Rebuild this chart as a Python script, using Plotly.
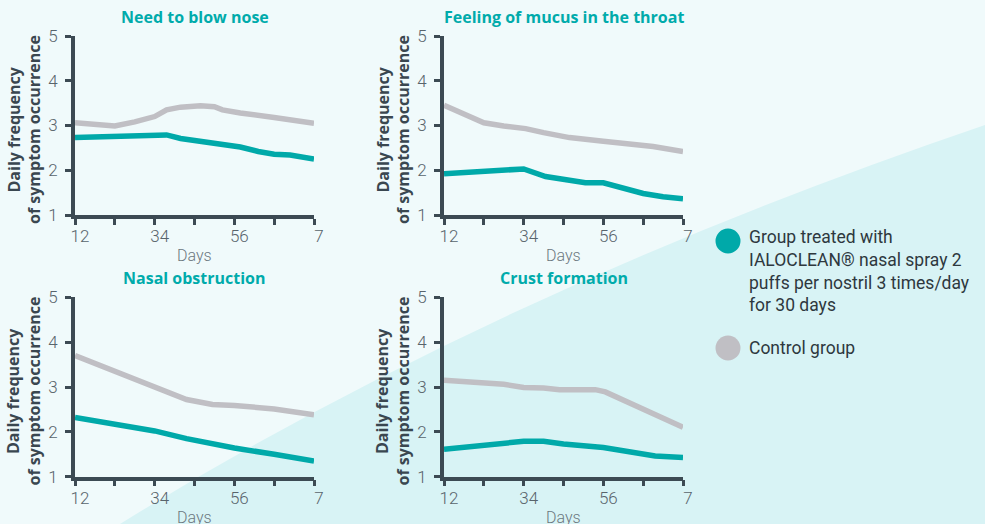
import plotly.graph_objects as go

# ---------------- data ----------------
panel_titles = ["Need to blow nose", "Feeling of mucus in the throat",
                "Nasal obstruction", "Crust formation"]
day_ticks = [0, 1, 2, 3, 4, 5, 6]
day_tick_labels = ["12", "", "34", "", "56", "", "7"]
y_ticks = [1, 2, 3, 4, 5]
series_names = ["Group treated with IALOCLEAN® nasal spray 2 puffs per nostril 3 times/day for 30 days",
                "Control group"]

# Need to blow nose
blow_treated_day = [0, 1, 1.5, 2, 2.3, 2.65, 3.15, 3.6, 3.8, 4.15, 4.6, 5, 5.4, 6]
blow_treated_val = [2.73, 2.76, 2.79, 2.80, 2.79, 2.71, 2.65, 2.60, 2.55, 2.52, 2.42, 2.36, 2.34, 2.25]
blow_control_day = [0, 1, 1.5, 2, 2.3, 2.65, 3.15, 3.5, 3.7, 4.15, 5, 6]
blow_control_val = [3.06, 2.99, 3.08, 3.20, 3.35, 3.41, 3.44, 3.42, 3.35, 3.28, 3.18, 3.05]

# Feeling of mucus in the throat
mucus_treated_day = [0, 1, 2, 2.55, 3, 3.55, 4, 4.5, 5, 5.5, 6]
mucus_treated_val = [1.92, 1.98, 2.03, 1.86, 1.80, 1.72, 1.72, 1.60, 1.48, 1.41, 1.36]
mucus_control_day = [0, 1, 1.5, 1.75, 2.05, 2.5, 3.15, 4, 4.6, 5.25, 6]
mucus_control_val = [3.45, 3.06, 2.99, 2.97, 2.93, 2.84, 2.73, 2.65, 2.60, 2.53, 2.42]

# Nasal obstruction
obst_treated_day = [0, 1, 2, 2.8, 4, 5, 6]
obst_treated_val = [2.32, 2.17, 2.02, 1.85, 1.64, 1.50, 1.35]
obst_control_day = [0, 1, 2, 2.8, 3.45, 4, 5, 5.3, 6]
obst_control_val = [3.70, 3.36, 3.01, 2.72, 2.61, 2.59, 2.51, 2.48, 2.38]

# Crust formation
crust_treated_day = [0, 1, 2, 2.5, 3, 4, 4.65, 5, 5.3, 6]
crust_treated_val = [1.61, 1.71, 1.79, 1.79, 1.73, 1.65, 1.57, 1.50, 1.46, 1.43]
crust_control_day = [0, 1, 1.5, 2, 2.5, 2.9, 3.8, 4.05, 6]
crust_control_val = [3.15, 3.09, 3.06, 2.99, 2.98, 2.94, 2.94, 2.89, 2.10]

panels = [
    (blow_treated_day, blow_treated_val, blow_control_day, blow_control_val),
    (mucus_treated_day, mucus_treated_val, mucus_control_day, mucus_control_val),
    (obst_treated_day, obst_treated_val, obst_control_day, obst_control_val),
    (crust_treated_day, crust_treated_val, crust_control_day, crust_control_val),
]

# ---------------- style ----------------
W, H = 985, 524
TEAL = "#00a9a9"
GRAY = "#c0bfc4"
AXIS = "#3c4a53"
TICKTXT = "#58646c"
FONT = "Roboto"
BOLD = "Open Sans"

x_domains = [[75 / W, 314 / W], [444 / W, 683 / W]]
y_domains = [[1 - 215 / H, 1 - 36 / H], [1 - 476.7 / H, 1 - 297.3 / H]]

fig = go.Figure()
layout = dict(
    width=W, height=H,
    margin=dict(l=0, r=0, t=0, b=0, autoexpand=False),
    paper_bgcolor="#f0fafb",
    plot_bgcolor="rgba(0,0,0,0)",
    showlegend=False,
    font=dict(family=FONT),
)

annotations = []
for i, (td, tv, cd, cv) in enumerate(panels):
    n = i + 1
    sfx = "" if n == 1 else str(n)
    ov = str(n + 4)
    col, row = i % 2, i // 2
    # control series on the base axis (line + ticks), treated series on the overlay axis (labels)
    fig.add_trace(go.Scatter(x=cd, y=cv, mode="lines", name=series_names[1],
                             line=dict(color=GRAY, width=5.5),
                             xaxis="x" + sfx, yaxis="y" + sfx))
    fig.add_trace(go.Scatter(x=td, y=tv, mode="lines", name=series_names[0],
                             line=dict(color=TEAL, width=5.5),
                             xaxis="x" + sfx, yaxis="y" + ov))
    layout["xaxis" + sfx] = dict(
        domain=x_domains[col], anchor="y" + sfx, range=[0, 6],
        tickmode="array", tickvals=day_ticks, ticktext=day_tick_labels,
        ticks="outside", ticklen=6, tickwidth=3, tickcolor=AXIS,
        showline=True, linecolor=AXIS, linewidth=3.5,
        showgrid=False, zeroline=False, fixedrange=True, automargin=False,
        tickfont=dict(family=FONT, size=17, color=TICKTXT, weight=300),
        ticklabelshift=5, ticklabelstandoff=-3,
    )
    # visible y axis: line + short ticks, no labels
    layout["yaxis" + sfx] = dict(
        domain=y_domains[row], anchor="x" + sfx, range=[1, 5],
        tickmode="array", tickvals=y_ticks, showticklabels=False,
        ticks="outside", ticklen=6, tickwidth=3, tickcolor=AXIS,
        showline=True, linecolor=AXIS, linewidth=3.5,
        showgrid=False, zeroline=False, fixedrange=True, automargin=False,
    )
    # overlay y axis with same scale, carrying the tick labels
    layout["yaxis" + ov] = dict(
        domain=y_domains[row], anchor="x" + sfx, overlaying="y" + sfx, side="left",
        range=[1, 5], tickmode="array", tickvals=y_ticks,
        ticks="outside", ticklen=13, tickwidth=1, tickcolor="rgba(0,0,0,0)",
        showline=False, showgrid=False, zeroline=False, fixedrange=True, automargin=False,
        tickfont=dict(family=FONT, size=17, color=TICKTXT, weight=300),
    )
    xc = (x_domains[col][0] + x_domains[col][1]) / 2
    ytop = y_domains[row][1]
    ybot = y_domains[row][0]
    yc = (ytop + ybot) / 2
    # subplot title
    annotations.append(dict(text="<b>" + panel_titles[i] + "</b>", xref="paper", yref="paper",
                            x=xc, y=ytop + 19 / H, xanchor="center", yanchor="middle",
                            showarrow=False, font=dict(family=BOLD, size=16, color="#00abab")))
    # y title (two lines)
    for k, line in enumerate(["Daily frequency", "of symptom occurrence"]):
        annotations.append(dict(text="<b>" + line + "</b>",
                                xref="paper", yref="paper",
                                x=x_domains[col][0] - (62 - 20.5 * k) / W, y=yc - 4 / H,
                                xanchor="center", yanchor="middle", textangle=-90,
                                showarrow=False, font=dict(family=BOLD, size=16, color="#3a4750")))
    # x title
    annotations.append(dict(text="Days", xref="paper", yref="paper",
                            x=xc, y=ybot - 41 / H, xanchor="center", yanchor="middle",
                            showarrow=False, font=dict(family=FONT, size=16, color="#6c7880",
                                                       weight=300)))

# legend (drawn manually)
legend_text = ["Group treated with<br>IALOCLEAN® nasal spray 2<br>puffs per nostril 3 times/day<br>for 30 days",
               "Control group"]
annotations.append(dict(text=legend_text[0], xref="paper", yref="paper",
                        x=747 / W, y=1 - 225 / H, xanchor="left", yanchor="top", align="left",
                        showarrow=False, font=dict(family=FONT, size=17.5, color="#2e383e")))
annotations.append(dict(text=legend_text[1], xref="paper", yref="paper",
                        x=747 / W, y=1 - 348 / H, xanchor="left", yanchor="middle", align="left",
                        showarrow=False, font=dict(family=FONT, size=17.5, color="#2e383e")))

shapes = [
    # background swoosh
    dict(type="path", xref="paper", yref="paper", layer="below",
         path="M %f,0 Q %f,%f 1,%f L 1,0 Z" % (120 / W, 494 / W, 1 - 292 / H, 1 - 125 / H),
         fillcolor="#d8f3f5", line=dict(width=0)),
    dict(type="circle", xref="paper", yref="paper", layer="above",
         x0=715.5 / W, x1=740.5 / W, y0=1 - 253.5 / H, y1=1 - 228.5 / H,
         fillcolor=TEAL, line=dict(width=0)),
    dict(type="circle", xref="paper", yref="paper", layer="above",
         x0=715.5 / W, x1=740.5 / W, y0=1 - 360.5 / H, y1=1 - 335.5 / H,
         fillcolor=GRAY, line=dict(width=0)),
]

layout["annotations"] = annotations
layout["shapes"] = shapes
fig.update_layout(**layout)
fig.write_html("out.html", config={"displayModeBar": False},
               post_script="document.body.style.margin='0px';document.body.style.overflow='hidden';")
